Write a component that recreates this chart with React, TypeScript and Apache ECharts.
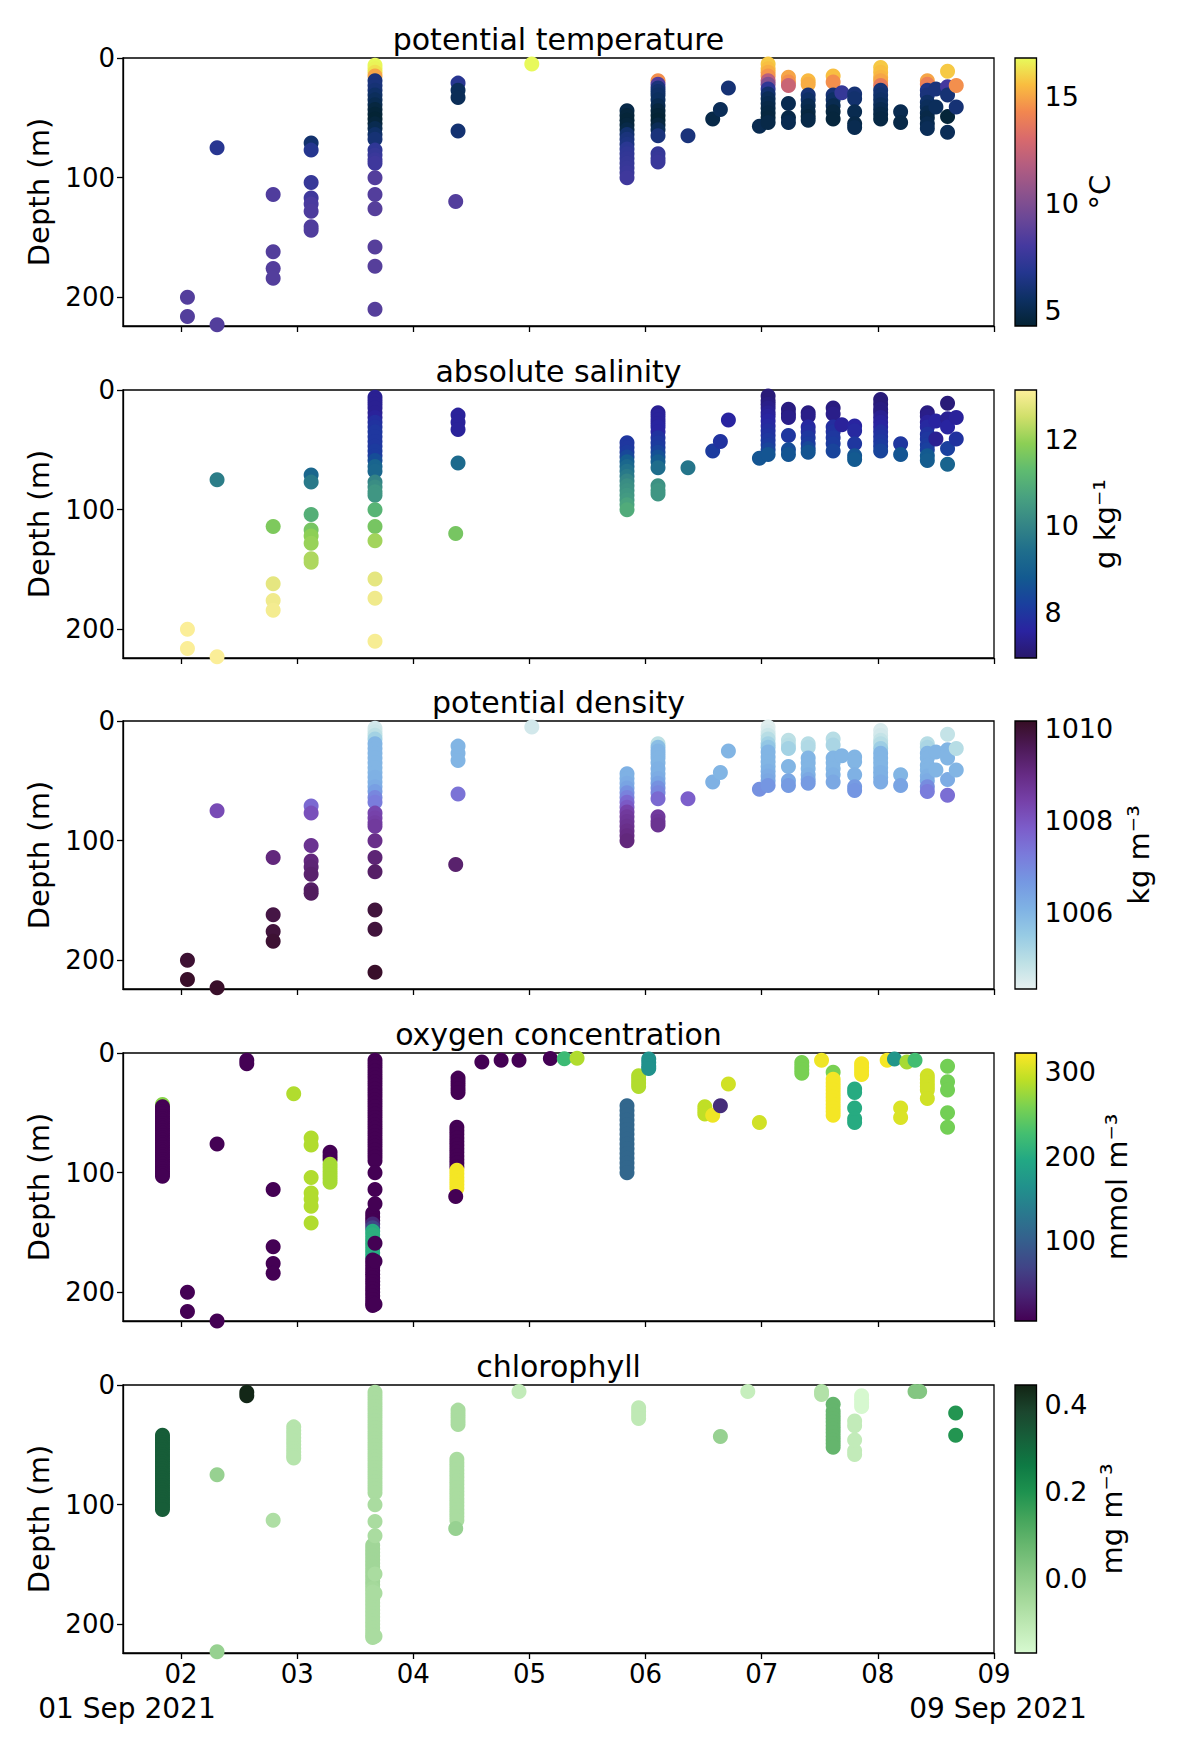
import React, { useEffect, useRef } from "react";
import * as echarts from "echarts";

// ---------- axis / tick data ----------
const dayTicks = [2, 3, 4, 5, 6, 7, 8, 9];
const depthTicks = [0, 100, 200];
const xMin = 1.5;
const xMax = 9;
const depthMax = 224;

// ---------- CTD profiles (day of Sep 2021, depths in m) ----------
const ctdDay = [2.055, 2.31, 2.793, 3.12, 3.67, 4.385, 4.365, 5.02, 5.84, 6.107, 6.365, 6.578, 6.644, 6.713, 6.98, 7.055, 7.23, 7.4, 7.615, 7.69, 7.8, 8.024, 8.196, 8.426, 8.5, 8.6, 8.675];
const ctdDepth = [
  [200, 216],
  [75, 223],
  [114, 162, 176, 184],
  [71, 77, 104, 117, 122, 128, 141, 144],
  [6, 9, 12, 15, 19, 23, 27, 31, 35, 39, 43, 47, 51, 55, 59, 64, 68, 77, 81, 85, 88, 100, 114, 126, 158, 174, 210],
  [21, 27, 33, 61],
  [120],
  [5],
  [44, 48, 52, 56, 60, 64, 68, 72, 76, 80, 84, 88, 92, 96, 100],
  [19, 22, 25, 28, 31, 35, 40, 44, 48, 52, 56, 60, 65, 80, 84, 87],
  [65],
  [51],
  [43],
  [25],
  [57],
  [5, 9, 12, 15, 19, 22, 26, 30, 34, 38, 42, 46, 50, 54],
  [16, 20, 23, 38, 50, 54],
  [19, 22, 31, 35, 40, 45, 49, 52],
  [15, 20, 31, 35, 40, 45, 51],
  [29],
  [30, 34, 45, 55, 58],
  [8, 12, 16, 19, 23, 27, 31, 35, 39, 43, 47, 51],
  [45, 54],
  [19, 22, 27, 31, 37, 41, 46, 50, 55, 59],
  [26, 41],
  [11, 24, 31, 49, 62],
  [23, 41],
];
const ctdTemp = [
  [8.5, 8.5],
  [6.9, 8.5],
  [8.4, 8.5, 8.5, 8.5],
  [5.8, 6.8, 7.5, 7.8, 8.2, 8.3, 8.4, 8.4],
  [16.8, 16.7, 16.3, 15.0, 6.2, 6.2, 6.0, 5.6, 5.3, 5.0, 4.6, 4.4, 4.3, 4.5, 5.0, 5.6, 6.0, 7.2, 7.4, 7.6, 7.8, 8.5, 8.5, 8.6, 8.6, 8.6, 8.6],
  [6.9, 5.3, 5.2, 5.9],
  [8.5],
  [16.8],
  [4.8, 4.5, 4.4, 4.5, 4.8, 5.8, 6.2, 6.4, 7.0, 7.2, 7.3, 7.4, 7.5, 7.6, 7.8],
  [14.5, 8.5, 6.2, 5.8, 5.6, 5.4, 5.0, 4.6, 4.4, 4.3, 4.6, 5.2, 6.2, 7.4, 7.5, 7.6],
  [6.2],
  [4.8],
  [5.2],
  [6.0],
  [5.0],
  [15.8, 15.6, 15.2, 14.6, 12.0, 10.2, 7.2, 5.8, 5.2, 5.0, 4.8, 4.7, 4.6, 4.8],
  [15.0, 14.5, 12.5, 5.0, 4.8, 5.0],
  [15.5, 15.2, 6.0, 5.6, 5.0, 4.8, 4.6, 4.8],
  [15.6, 14.5, 6.0, 5.5, 5.0, 4.6, 4.5],
  [7.4],
  [6.0, 5.8, 5.0, 4.8, 5.0],
  [15.8, 15.6, 15.4, 15.0, 13.8, 6.0, 5.8, 5.6, 5.3, 5.0, 4.8, 4.7],
  [5.0, 4.8],
  [15.0, 14.0, 6.5, 6.2, 5.6, 5.3, 5.0, 4.8, 5.0, 5.2],
  [6.2, 5.3],
  [15.8, 8.0, 6.0, 4.4, 5.2],
  [14.5, 6.0],
];
const ctdSal = [
  [13.1, 13.1],
  [9.8, 13.1],
  [11.7, 12.8, 12.95, 13.0],
  [9.2, 9.7, 11.0, 11.6, 11.9, 12.0, 12.2, 12.2],
  [7.4, 7.4, 7.4, 7.4, 7.4, 7.5, 7.8, 7.9, 8.0, 8.0, 8.0, 8.0, 8.1, 8.1, 8.5, 9.1, 9.2, 10.0, 10.2, 10.4, 10.4, 11.1, 11.6, 12.1, 12.8, 12.95, 13.05],
  [7.5, 7.5, 7.5, 9.3],
  [11.6],
  [null],
  [8.0, 8.0, 8.1, 8.4, 8.9, 9.2, 9.5, 9.7, 10.0, 10.2, 10.3, 10.4, 10.5, 10.7, 10.9],
  [7.4, 7.5, 7.5, 7.5, 7.6, 7.6, 7.9, 8.0, 8.1, 8.3, 8.6, 8.9, 9.4, 10.3, 10.4, 10.4],
  [9.6],
  [8.1],
  [7.9],
  [7.6],
  [8.7],
  [7.1, 7.1, 7.2, 7.3, 7.4, 7.5, 7.6, 7.7, 7.8, 7.9, 8.0, 8.1, 8.3, 8.7],
  [7.2, 7.2, 7.3, 8.0, 8.5, 8.7],
  [7.2, 7.3, 7.7, 7.8, 8.0, 8.1, 8.4, 8.7],
  [7.2, 7.3, 7.8, 7.9, 8.0, 8.1, 8.3],
  [7.5],
  [7.6, 7.7, 8.0, 8.7, 8.8],
  [7.1, 7.1, 7.2, 7.2, 7.4, 7.5, 7.6, 7.8, 7.9, 8.0, 8.1, 8.3],
  [8.0, 8.7],
  [7.2, 7.3, 7.5, 7.7, 7.9, 8.0, 8.1, 8.2, 8.8, 8.9],
  [7.6, 7.4],
  [7.1, 7.4, 7.6, 8.2, 9.1],
  [7.5, 7.9],
];
const ctdDens = [
  [1010.0, 1010.1],
  [1008.2, 1010.1],
  [1009.1, 1009.8, 1009.9, 1010.0],
  [1007.6, 1008.1, 1008.8, 1009.1, 1009.2, 1009.3, 1009.4, 1009.5],
  [1004.6, 1004.7, 1004.9, 1005.3, 1006.0, 1006.0, 1006.0, 1006.0, 1006.0, 1006.0, 1006.0, 1006.1, 1006.1, 1006.2, 1006.5, 1007.0, 1007.2, 1008.3, 1008.4, 1008.5, 1008.6, 1008.9, 1009.2, 1009.4, 1009.9, 1009.9, 1010.1],
  [1006.0, 1006.0, 1006.0, 1007.4],
  [1009.3],
  [1004.6],
  [1006.1, 1006.1, 1006.2, 1006.4, 1006.8, 1007.1, 1007.6, 1007.9, 1008.4, 1008.6, 1008.7, 1008.8, 1008.9, 1009.0, 1009.1],
  [1004.9, 1005.8, 1006.0, 1006.0, 1006.0, 1006.0, 1006.1, 1006.1, 1006.2, 1006.4, 1006.8, 1007.0, 1007.6, 1008.6, 1008.7, 1008.8],
  [1007.8],
  [1006.1],
  [1006.0],
  [1006.0],
  [1006.8],
  [1004.4, 1004.5, 1004.7, 1005.0, 1005.3, 1005.6, 1006.0, 1006.0, 1006.0, 1006.0, 1006.1, 1006.2, 1006.3, 1006.7],
  [1004.9, 1005.0, 1005.3, 1006.0, 1006.3, 1006.6],
  [1005.0, 1005.1, 1006.0, 1006.0, 1006.0, 1006.1, 1006.3, 1006.6],
  [1005.0, 1005.2, 1006.0, 1006.0, 1006.0, 1006.1, 1006.3],
  [1006.0],
  [1006.0, 1006.0, 1006.1, 1006.6, 1006.7],
  [1004.5, 1004.6, 1004.8, 1005.0, 1005.4, 1006.0, 1006.0, 1006.0, 1006.0, 1006.1, 1006.1, 1006.2],
  [1006.0, 1006.4],
  [1005.0, 1005.2, 1006.0, 1006.0, 1006.0, 1006.0, 1006.1, 1006.2, 1006.9, 1007.2],
  [1006.0, 1006.0],
  [1004.8, 1006.0, 1006.0, 1006.2, 1007.5],
  [1005.0, 1006.0],
];

// ---------- oxygen profiles ----------
const oxyDay = [1.84, 2.055, 2.31, 2.566, 2.793, 2.97, 3.12, 3.283, 3.65, 3.67, 4.385, 4.375, 4.365, 4.59, 4.756, 4.91, 5.18, 5.3, 5.41, 5.84, 5.94, 6.027, 6.51, 6.578, 6.644, 6.713, 6.98, 7.345, 7.515, 7.615, 7.8, 7.86, 8.08, 8.143, 8.25, 8.32, 8.196, 8.426, 8.6];
const oxyDepth = [
  [43, 45, 47, 49, 51, 53, 55, 57, 59, 61, 63, 65, 67, 69, 71, 73, 75, 77, 79, 81, 83, 85, 87, 89, 91, 93, 95, 97, 99, 101, 103],
  [200, 216],
  [76, 224],
  [6, 9],
  [114, 162, 176, 184],
  [34],
  [71, 77, 104, 117, 122, 128, 142],
  [83, 86, 89, 93, 96, 99, 102, 105, 108],
  [134, 137, 140, 143, 146, 149, 152, 155, 158, 161, 164, 167, 170, 173, 176, 179, 182, 185, 188, 191, 194, 197, 200, 203, 206, 209, 211],
  [6, 9, 12, 15, 18, 21, 24, 27, 30, 33, 36, 39, 42, 45, 48, 51, 54, 57, 60, 63, 66, 69, 72, 75, 78, 81, 84, 87, 90, 100, 114, 126, 159, 174, 210],
  [21, 24, 27, 30, 33],
  [62, 65, 68, 71, 74, 77, 80, 83, 86, 89, 92, 95, 98, 101, 104, 107, 110, 113],
  [120],
  [7.6],
  [6],
  [6],
  [4.5],
  [4.8],
  [4.3],
  [44, 48, 52, 56, 60, 64, 68, 72, 76, 80, 84, 88, 92, 96, 100],
  [19, 22, 25, 28],
  [5, 8, 11, 13],
  [45, 48, 51],
  [52],
  [44],
  [26],
  [58],
  [8, 11, 14, 17],
  [6],
  [16, 22, 25, 28, 31, 34, 37, 40, 43, 46, 49, 52],
  [30, 33, 46, 55, 58],
  [9, 12, 15, 18],
  [6],
  [5],
  [7.6],
  [6],
  [46, 54],
  [19, 22, 25, 28, 31, 38],
  [11, 24, 31, 50, 62],
];
const oxyValue = [
  [265, 5, 5, 5, 5, 5, 5, 5, 5, 5, 5, 5, 5, 5, 5, 5, 5, 5, 5, 5, 5, 5, 5, 5, 5, 5, 5, 5, 5, 5, 5],
  [5, 5],
  [5, 5],
  [5, 5],
  [5, 5, 5, 5],
  [285],
  [285, 285, 285, 285, 285, 285, 285],
  [5, 5, 5, 280, 280, 280, 280, 280, 280],
  [5, 5, 5, 40, 70, 200, 205, 205, 205, 205, 205, 205, 200, 5, 5, 5, 5, 5, 5, 5, 5, 5, 5, 5, 5, 5, 5],
  [5, 5, 5, 5, 5, 5, 5, 5, 5, 5, 5, 5, 5, 5, 5, 5, 5, 5, 5, 5, 5, 5, 5, 5, 5, 5, 5, 5, 5, 5, 5, 5, 5, 5, 5],
  [5, 5, 5, 5, 5],
  [5, 5, 5, 5, 5, 5, 5, 5, 5, 5, 5, 5, 318, 318, 318, 318, 318, 318],
  [5],
  [5],
  [5],
  [5],
  [5],
  [220],
  [285],
  [110, 110, 110, 110, 110, 110, 110, 110, 110, 110, 110, 110, 110, 110, 110],
  [285, 285, 285, 285],
  [165, 165, 165, 165],
  [292, 292, 292],
  [315],
  [45],
  [300],
  [300],
  [258, 258, 258, 258],
  [315],
  [258, 318, 318, 318, 318, 318, 318, 318, 318, 318, 318, 318],
  [200, 200, 200, 200, 200],
  [318, 318, 318, 318],
  [318],
  [170],
  [280],
  [225],
  [305, 305],
  [300, 300, 300, 300, 300, 300],
  [255, 255, 255, 255, 255],
];

// ---------- chlorophyll profiles ----------
const chlDay = [1.84, 2.31, 2.566, 2.793, 2.97, 3.65, 3.67, 4.385, 4.375, 4.365, 4.91, 5.94, 6.644, 6.88, 7.515, 7.615, 7.8, 7.86, 8.32, 8.36, 8.67];
const chlDepth = [
  [42, 44, 46, 48, 50, 52, 54, 56, 58, 60, 62, 64, 66, 68, 70, 72, 74, 76, 78, 80, 82, 84, 86, 88, 90, 92, 94, 96, 98, 100, 102, 104],
  [75, 223],
  [6, 9],
  [113],
  [35, 38, 41, 44, 47, 50, 53, 56, 59, 61],
  [134, 137, 140, 143, 146, 149, 152, 155, 158, 161, 164, 167, 170, 173, 176, 179, 182, 185, 188, 191, 194, 197, 200, 203, 206, 209, 211],
  [6, 9, 12, 15, 18, 21, 24, 27, 30, 33, 36, 39, 42, 45, 48, 51, 54, 57, 60, 63, 66, 69, 72, 75, 78, 81, 84, 87, 90, 100, 114, 126, 158, 174, 210],
  [21, 24, 27, 30, 33],
  [62, 65, 68, 71, 74, 77, 80, 83, 86, 89, 92, 95, 98, 101, 104, 107, 110, 113],
  [120],
  [5.5],
  [19, 22, 25, 28],
  [43],
  [5.5],
  [5.5, 8],
  [16, 22, 25, 28, 31, 34, 37, 40, 43, 46, 49, 52],
  [30, 34, 46, 55, 58],
  [9, 12, 15, 18],
  [5.5],
  [5.5],
  [23.5, 42],
];
const chlValue = [
  [0.33, 0.33, 0.33, 0.33, 0.33, 0.33, 0.33, 0.33, 0.33, 0.33, 0.33, 0.33, 0.33, 0.33, 0.33, 0.33, 0.33, 0.33, 0.33, 0.33, 0.33, 0.33, 0.33, 0.33, 0.33, 0.33, 0.33, 0.33, 0.33, 0.33, 0.33, 0.33],
  [-0.02, -0.02],
  [0.44, 0.44],
  [-0.07],
  [-0.09, -0.09, -0.09, -0.09, -0.09, -0.09, -0.09, -0.09, -0.09, -0.09],
  [-0.04, -0.04, -0.04, -0.04, -0.04, -0.04, -0.04, -0.04, -0.04, -0.04, -0.04, -0.04, -0.05, -0.06, -0.06, -0.06, -0.06, -0.06, -0.06, -0.06, -0.06, -0.06, -0.06, -0.06, -0.06, -0.06, -0.06],
  [-0.06, -0.06, -0.06, -0.06, -0.06, -0.06, -0.06, -0.06, -0.06, -0.06, -0.06, -0.06, -0.06, -0.06, -0.06, -0.06, -0.06, -0.06, -0.06, -0.06, -0.06, -0.06, -0.06, -0.06, -0.06, -0.06, -0.06, -0.06, -0.06, -0.06, -0.06, -0.06, -0.06, -0.06, -0.06],
  [-0.06, -0.06, -0.06, -0.06, -0.06],
  [-0.06, -0.06, -0.06, -0.06, -0.06, -0.06, -0.06, -0.06, -0.06, -0.06, -0.06, -0.06, -0.06, -0.06, -0.06, -0.06, -0.06, -0.06],
  [-0.02],
  [-0.12],
  [-0.11, -0.11, -0.11, -0.11],
  [-0.02],
  [-0.13],
  [-0.08, -0.08],
  [0.08, 0.08, 0.08, 0.08, 0.08, 0.08, 0.08, 0.08, 0.08, 0.08, 0.08, 0.08],
  [-0.12, -0.12, -0.12, -0.12, -0.12],
  [-0.17, -0.17, -0.17, -0.17],
  [0.02],
  [0.02],
  [0.19, 0.19],
];

// ---------- colour scales ----------
const thermal = ["#042333", "#0d3063", "#24368f", "#45399f", "#6a4797", "#8e538c", "#b45d80", "#d96a6c", "#f2874f", "#f9bd40", "#e8fa5b"];
const haline = ["#29186b", "#2a23a0", "#1a3f9e", "#135a90", "#1f6e8c", "#358686", "#48a180", "#5fbb70", "#8ccf55", "#d0df6a", "#fdef9a"];
const dense = ["#e6f0f0", "#bde0e5", "#97cbe4", "#7fb2e4", "#7598e2", "#7a7bdb", "#7c5dca", "#7641a9", "#662b84", "#4d1a58", "#360e24"];
const viridis = ["#440154", "#482475", "#414487", "#355f8d", "#2a788e", "#21918c", "#22a884", "#44bf70", "#7ad151", "#bddf26", "#fde725"];
const algae = ["#d7f9d0", "#bfe9b5", "#a5d99b", "#88c885", "#68b76f", "#45a55c", "#1e924f", "#0e7a44", "#16603a", "#1b462e", "#122414"];

const titles = ["potential temperature", "absolute salinity", "potential density", "oxygen concentration", "chlorophyll"];
const units = ["°C", "g kg⁻¹", "kg m⁻³", "mmol m⁻³", "mg m⁻³"];
const cbarMin = [4.25, 6.95, 1004.32, 4.6, -0.173];
const cbarMax = [16.82, 13.13, 1010.17, 322.5, 0.446];
const cbarTicks = [[5, 10, 15], [8, 10, 12], [1006, 1008, 1010], [100, 200, 300], [0.0, 0.2, 0.4]];

function flatten(days: number[], depths: number[][], values: (number | null)[][]) {
  const out: number[][] = [];
  days.forEach((d, i) => {
    depths[i].forEach((z, j) => {
      const v = values[i][j];
      if (v !== null && v !== undefined) out.push([d, z, v as number]);
    });
  });
  return out;
}

const FONT = "DejaVu Sans";

export default function App() {
  const ref = useRef<HTMLDivElement>(null);
  useEffect(() => {
    document.body.style.margin = "0";
    if (!ref.current) return;
    const chart = echarts.init(ref.current, undefined, { renderer: "svg" });

    const datasets = [
      flatten(ctdDay, ctdDepth, ctdTemp),
      flatten(ctdDay, ctdDepth, ctdSal),
      flatten(ctdDay, ctdDepth, ctdDens),
      flatten(oxyDay, oxyDepth, oxyValue),
      flatten(chlDay, chlDepth, chlValue),
    ];
    const cmaps = [thermal, haline, dense, viridis, algae];

    const plotLeft = 123;
    const plotWidth = 871;
    const tops = [58, 390, 721, 1053, 1385];
    const ph = 268;
    const cbLeft = 1015;
    const cbWidth = 21.5;
    const labelX = [1100, 1105, 1139, 1117, 1112];

    const plotGrids: any[] = [];
    const cbGrids: any[] = [];
    const plotX: any[] = [];
    const cbX: any[] = [];
    const plotY: any[] = [];
    const cbY: any[] = [];
    const plotSeries: any[] = [];
    const cbSeries: any[] = [];
    const visualMaps: any[] = [];
    const graphics: any[] = [];

    const axisLineStyle = { color: "#000", width: 1.3 };

    for (let i = 0; i < 5; i++) {
      plotGrids.push({ left: plotLeft, top: tops[i], width: plotWidth, height: ph, show: true, borderColor: "#000", borderWidth: 1.3, backgroundColor: "transparent" });
      plotX.push({
        gridIndex: i,
        type: "value",
        min: xMin,
        max: xMax,
        axisLine: { show: true, onZero: false, lineStyle: axisLineStyle },
        axisTick: { show: true, inside: false, length: 6, lineStyle: axisLineStyle, customValues: dayTicks },
        axisLabel: {
          show: i === 4,
          customValues: dayTicks,
          formatter: (v: number) => String(Math.round(v)).padStart(2, "0"),
          fontSize: 26,
          fontFamily: FONT,
          color: "#000",
          margin: 8,
        },
        splitLine: { show: false },
      });
      plotY.push({
        gridIndex: i,
        type: "value",
        inverse: true,
        min: 0,
        max: depthMax,
        axisLine: { show: true, onZero: false, lineStyle: axisLineStyle },
        axisTick: { show: true, inside: false, length: 6, lineStyle: axisLineStyle, customValues: depthTicks },
        axisLabel: { customValues: depthTicks, fontSize: 26, fontFamily: FONT, color: "#000", margin: 8 },
        splitLine: { show: false },
      });
      plotSeries.push({
        type: "scatter",
        xAxisIndex: i,
        yAxisIndex: i,
        data: datasets[i],
        symbol: "circle",
        symbolSize: 15,
        itemStyle: { opacity: 1 },
        silent: true,
        z: 2,
      });
      visualMaps.push({
        type: "continuous",
        show: false,
        seriesIndex: i,
        dimension: 2,
        min: cbarMin[i],
        max: cbarMax[i],
        inRange: { color: cmaps[i] },
      });

      // colour bar grid with its axis
      const gi = 5 + i;
      cbGrids.push({ left: cbLeft, top: tops[i], width: cbWidth, height: ph, show: false });
      cbX.push({ gridIndex: gi, type: "value", min: 0, max: 1, show: false });
      cbY.push({
        gridIndex: gi,
        type: "value",
        position: "right",
        min: cbarMin[i],
        max: cbarMax[i],
        axisLine: { show: false },
        axisTick: { show: true, inside: false, length: 6, lineStyle: axisLineStyle, customValues: cbarTicks[i] },
        axisLabel: {
          customValues: cbarTicks[i],
          fontSize: 27,
          fontFamily: FONT,
          color: "#000",
          margin: 8,
          formatter: (v: number) => (i === 4 ? v.toFixed(1) : String(Math.round(v))),
        },
        splitLine: { show: false },
      });
      cbSeries.push({ type: "scatter", xAxisIndex: gi, yAxisIndex: gi, data: [], silent: true });

      graphics.push({
        type: "rect",
        silent: true,
        z: 1,
        shape: { x: cbLeft, y: tops[i], width: cbWidth, height: ph },
        style: {
          fill: new echarts.graphic.LinearGradient(
            0, 1, 0, 0,
            cmaps[i].map((c, k) => ({ offset: k / (cmaps[i].length - 1), color: c }))
          ),
          stroke: "#000",
          lineWidth: 1.3,
        },
      });
      graphics.push({
        type: "text",
        silent: true,
        x: plotLeft + plotWidth / 2,
        y: tops[i] - 19,
        style: { text: titles[i], fontSize: 30, fontFamily: FONT, fill: "#000", align: "center", verticalAlign: "middle" },
      });
      graphics.push({
        type: "text",
        silent: true,
        x: 39,
        y: tops[i] + ph / 2,
        rotation: Math.PI / 2,
        style: { text: "Depth (m)", fontSize: 29, fontFamily: FONT, fill: "#000", align: "center", verticalAlign: "middle" },
      });
      graphics.push({
        type: "text",
        silent: true,
        x: labelX[i],
        y: tops[i] + ph / 2,
        rotation: Math.PI / 2,
        style: { text: units[i], fontSize: 29, fontFamily: FONT, fill: "#000", align: "center", verticalAlign: "middle" },
      });
    }

    graphics.push({
      type: "text",
      silent: true,
      x: 127,
      y: 1708,
      style: { text: "01 Sep 2021", fontSize: 28, fontFamily: FONT, fill: "#000", align: "center", verticalAlign: "middle" },
    });
    graphics.push({
      type: "text",
      silent: true,
      x: 998,
      y: 1708,
      style: { text: "09 Sep 2021", fontSize: 28, fontFamily: FONT, fill: "#000", align: "center", verticalAlign: "middle" },
    });

    chart.setOption({
      animation: false,
      backgroundColor: "#fff",
      grid: [...plotGrids, ...cbGrids],
      xAxis: [...plotX, ...cbX],
      yAxis: [...plotY, ...cbY],
      visualMap: visualMaps,
      series: [...plotSeries, ...cbSeries],
      graphic: graphics,
    });
    return () => chart.dispose();
  }, []);
  return <div ref={ref} style={{ width: 1200, height: 1750 }} />;
}
